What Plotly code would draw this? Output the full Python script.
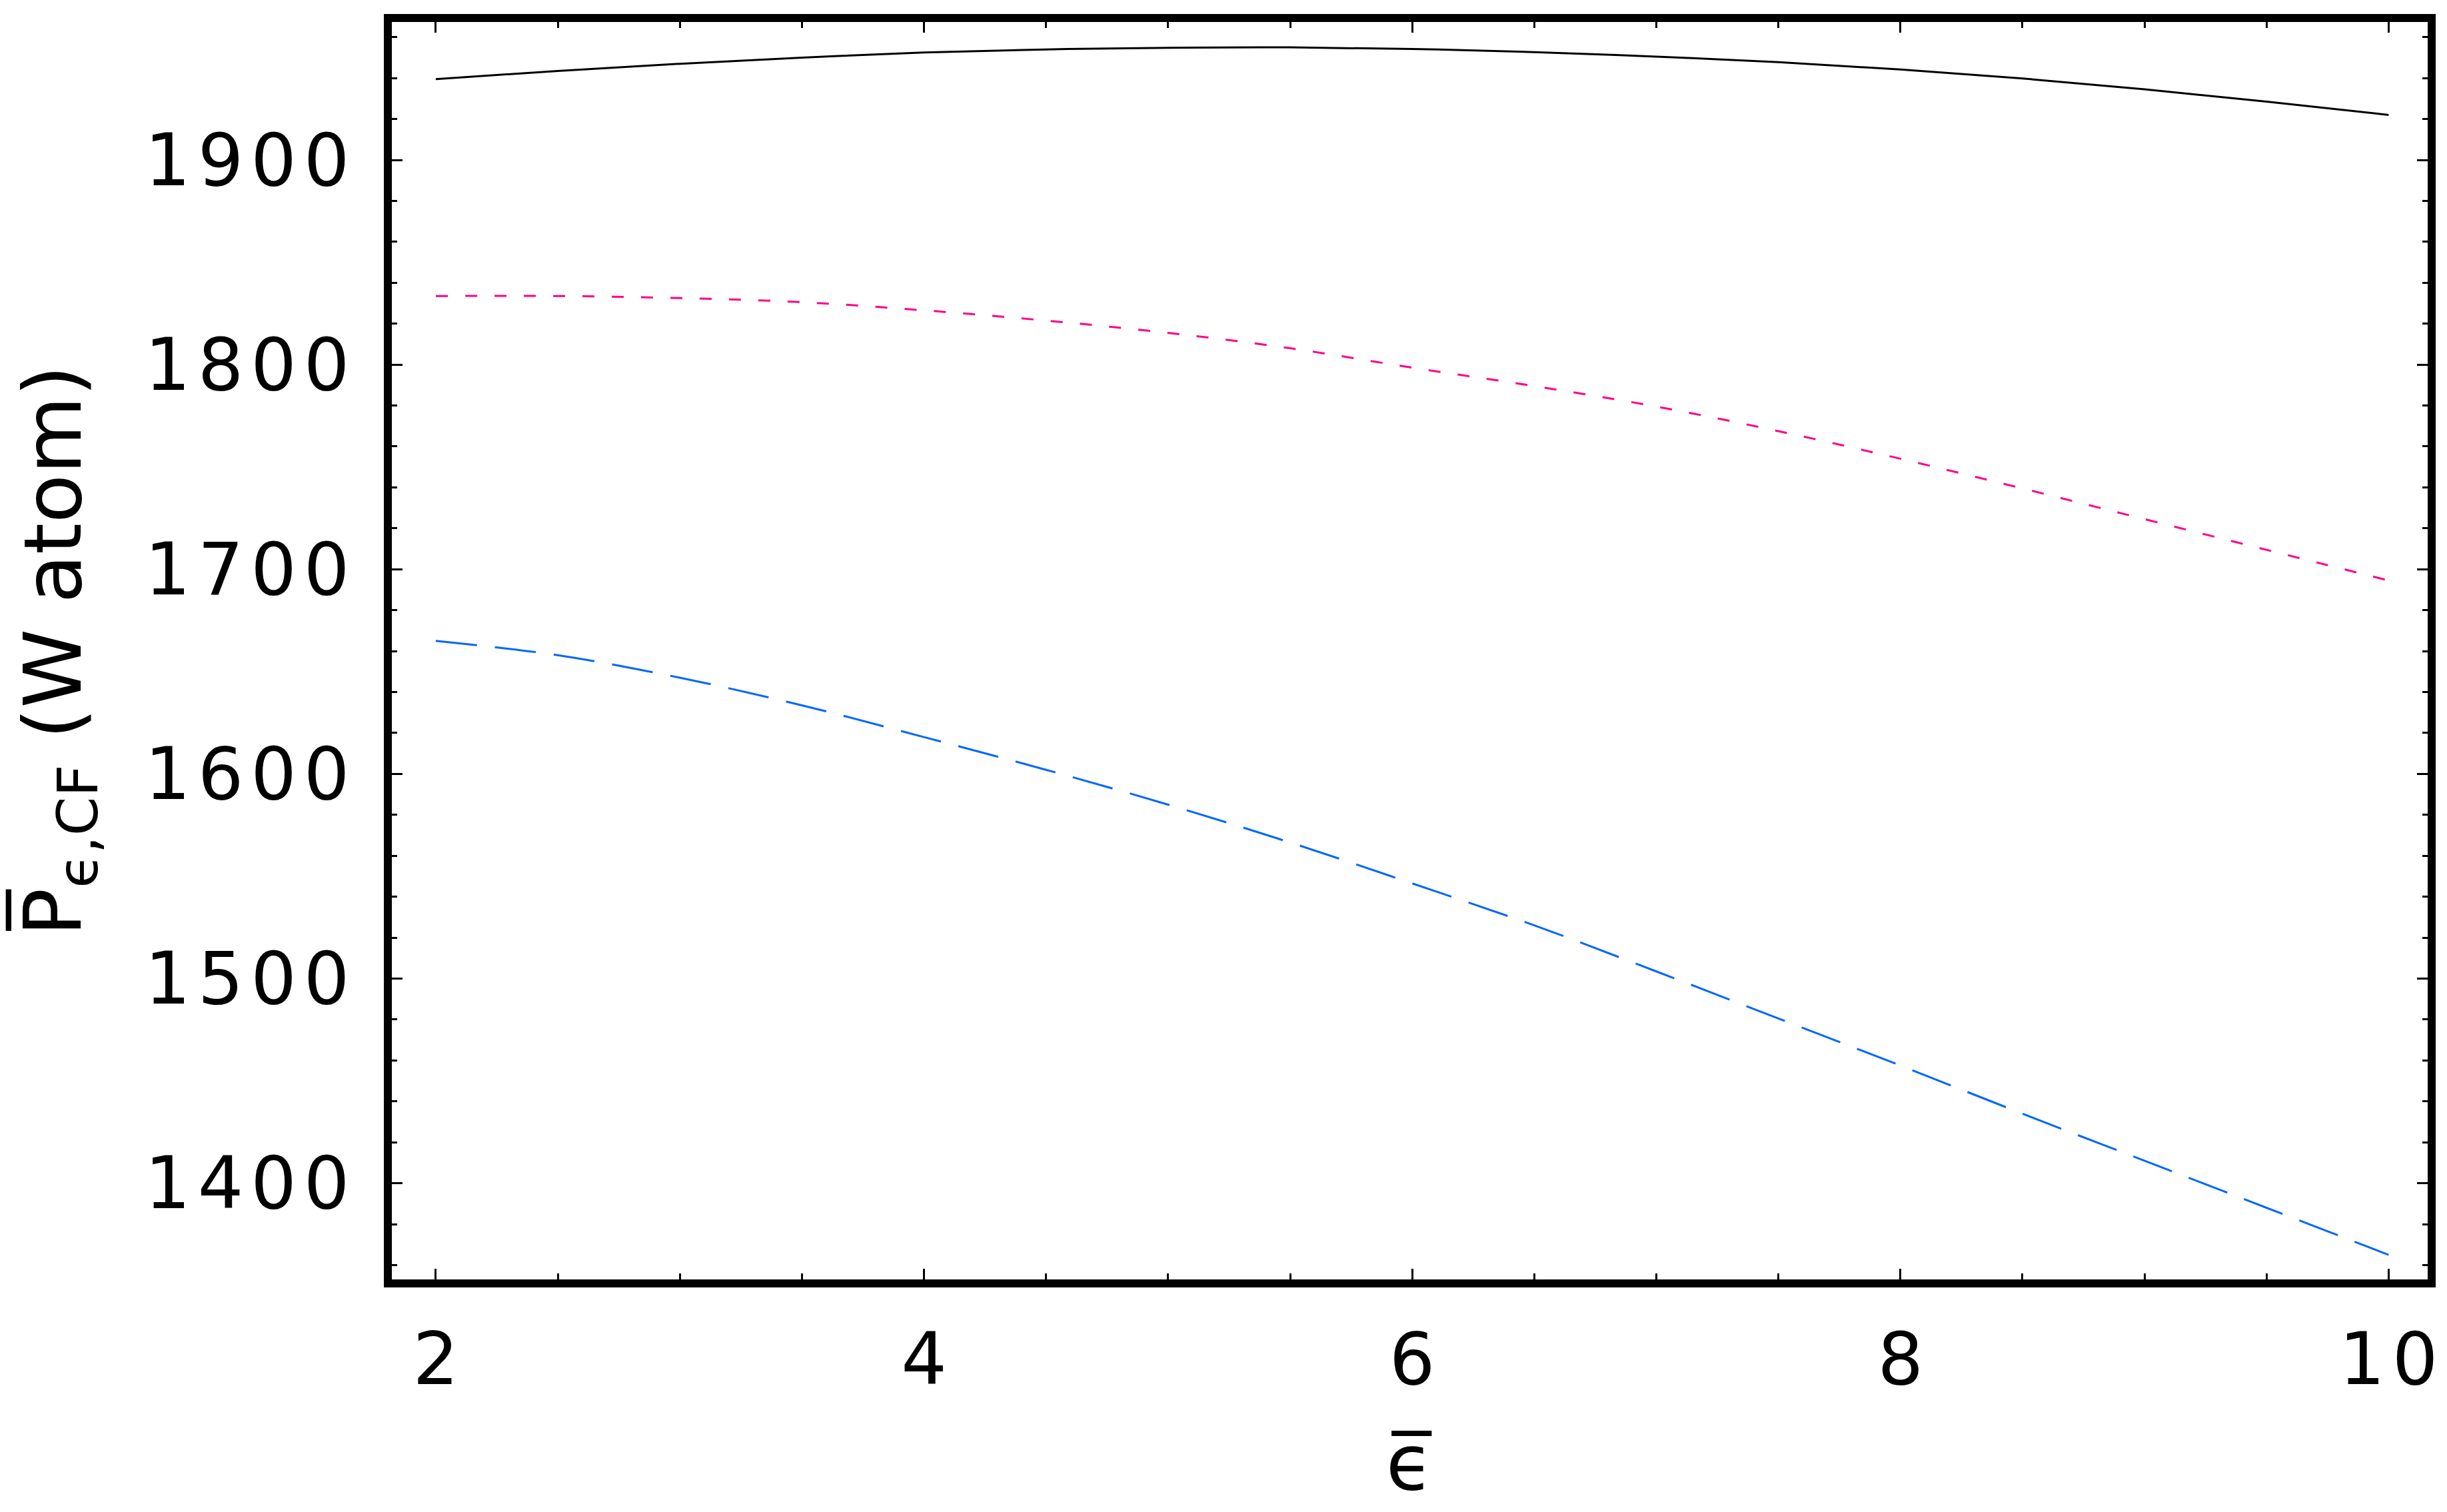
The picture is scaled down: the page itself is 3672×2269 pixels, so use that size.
import plotly.graph_objects as go

# x grid of the plot (epsilon bar)
eps = [2, 2.5, 3, 3.5, 4, 4.5, 5, 5.5, 6, 6.5, 7, 7.5, 8, 8.5, 9, 9.5, 10]

# three curves, W atom
p_solid = [1939.5, 1943.5, 1947, 1950, 1952.5, 1954, 1954.8, 1955, 1954.2,
           1952.7, 1950.5, 1947.8, 1944.2, 1939.8, 1934.5, 1928.5, 1922]
p_dotted = [1833.5, 1833.5, 1832.5, 1830.5, 1826.5, 1821.5, 1815.5, 1808, 1798.5,
            1789.5, 1779.5, 1767.5, 1754, 1739.5, 1724.5, 1709.5, 1694.5]
p_dashed = [1665, 1658, 1647, 1633.5, 1618, 1602, 1585, 1566.5, 1546.5,
            1526, 1503.5, 1480.5, 1457.5, 1434, 1411, 1388, 1365]

x_ticks = [2, 4, 6, 8, 10]
y_ticks = [1400, 1500, 1600, 1700, 1800, 1900]


def spaced(v):
    # the original labels are drawn with wide letter spacing
    return "\u200a".join(str(v))


FONT = "DejaVu Sans"

fig = go.Figure()
fig.add_trace(go.Scatter(x=eps, y=p_solid, mode="lines", line_shape="spline",
                         line=dict(color="black", width=3)))
fig.add_trace(go.Scatter(x=eps, y=p_dotted, mode="lines", line_shape="spline",
                         line=dict(color="#FF0088", width=3, dash="18px,26px")))
fig.add_trace(go.Scatter(x=eps, y=p_dashed, mode="lines", line_shape="spline",
                         line=dict(color="#0066FF", width=3, dash="62px,27px")))

axis_common = dict(
    showline=True, linecolor="black", linewidth=12, mirror="allticks",
    ticks="inside", ticklen=16, tickwidth=3, tickcolor="black",
    showgrid=False, zeroline=False,
    tickfont=dict(family=FONT, size=108, color="black"),
)

fig.update_xaxes(
    range=[1.82, 10.16], tickvals=x_ticks, ticktext=[spaced(v) for v in x_ticks],
    ticklabelstandoff=15,
    minor=dict(dtick=0.5, ticks="inside", ticklen=9, tickwidth=3, tickcolor="black"),
    title=dict(text="\u03f5\u0305", font=dict(family=FONT, size=116, color="black"),
               standoff=58),
    **axis_common,
)
fig.update_yaxes(
    range=[1353, 1967.4], tickvals=y_ticks, ticktext=[spaced(v) for v in y_ticks],
    ticklabelstandoff=30,
    minor=dict(dtick=20, ticks="inside", ticklen=8, tickwidth=3, tickcolor="black"),
    title=dict(text="P\u0305<sub>\u03f5,CF</sub> (W atom)",
               font=dict(family=FONT, size=120, color="black"), standoff=60),
    **axis_common,
)

fig.update_layout(
    width=3672, height=2269,
    margin=dict(l=580, r=37, t=25, b=357),
    plot_bgcolor="white", paper_bgcolor="white",
    showlegend=False,
)

fig.write_html("out.html")
